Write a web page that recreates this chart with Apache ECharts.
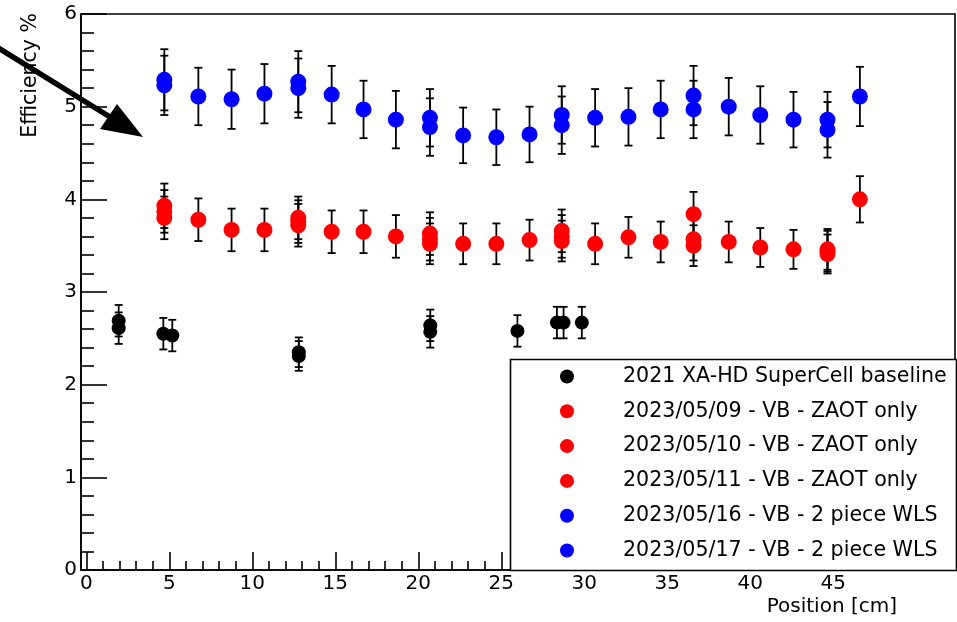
<!DOCTYPE html>
<html>
<head>
<meta charset="utf-8">
<script src="https://cdn.jsdelivr.net/npm/echarts@6/dist/echarts.min.js"></script>
<style>html,body{margin:0;padding:0;background:#fff}#c{width:957px;height:622px}</style>
</head>
<body>
<div id="c"></div>
<script>
// ---- data ----
var seriesNames = [
  '2021 XA-HD SuperCell baseline',
  '2023/05/09 - VB - ZAOT only',
  '2023/05/10 - VB - ZAOT only',
  '2023/05/11 - VB - ZAOT only',
  '2023/05/16 - VB - 2 piece WLS',
  '2023/05/17 - VB - 2 piece WLS'
];
var xTickValues = [0, 5, 10, 15, 20, 25, 30, 35, 40, 45, 50];
var xLabelValues = [0, 5, 10, 15, 20, 25, 30, 35, 40, 45];
var xMinorValues = [1,2,3,4,6,7,8,9,11,12,13,14,16,17,18,19,21,22,23,24,26,27,28,29,31,32,33,34,36,37,38,39,41,42,43,44,46,47,48,49,51,52];

var posFull = [4.70, 6.75, 8.75, 10.73, 12.77, 14.78, 16.70, 18.65, 20.70, 22.70, 24.70, 26.70, 28.64, 30.65, 32.66, 34.60, 36.58, 38.70, 40.60, 42.60, 44.65, 46.60];
var posSub = [4.70, 12.77, 20.70, 28.64, 36.58, 44.65];

var baselineX   = [1.95, 1.95, 4.64, 5.18, 12.80, 12.80, 20.72, 20.72, 25.97, 28.35, 28.75, 29.85];
var baselineY   = [2.69, 2.61, 2.55, 2.53, 2.35, 2.31, 2.64, 2.57, 2.58, 2.67, 2.67, 2.67];
var baselineErr = [0.17, 0.17, 0.17, 0.17, 0.16, 0.16, 0.17, 0.17, 0.17, 0.17, 0.17, 0.17];

var zaot0509    = [3.87, 3.78, 3.67, 3.67, 3.76, 3.65, 3.65, 3.60, 3.57, 3.52, 3.52, 3.56, 3.60, 3.52, 3.59, 3.54, 3.57, 3.54, 3.48, 3.46, 3.44, 4.00];
var zaot0509Err = [0.23, 0.23, 0.23, 0.23, 0.23, 0.23, 0.23, 0.23, 0.23, 0.22, 0.22, 0.22, 0.23, 0.22, 0.22, 0.22, 0.23, 0.22, 0.21, 0.21, 0.22, 0.25];
var zaot0510    = [3.93, 3.80, 3.63, 3.66, 3.84, 3.46];
var zaot0510Err = [0.24, 0.23, 0.23, 0.23, 0.24, 0.22];
var zaot0511    = [3.80, 3.72, 3.52, 3.55, 3.50, 3.41];
var zaot0511Err = [0.23, 0.23, 0.22, 0.22, 0.22, 0.21];

var wls0516    = [5.23, 5.11, 5.08, 5.14, 5.20, 5.13, 4.97, 4.86, 4.78, 4.69, 4.67, 4.70, 4.80, 4.88, 4.89, 4.97, 4.97, 5.00, 4.91, 4.86, 4.75, 5.11];
var wls0516Err = [0.32, 0.31, 0.32, 0.32, 0.32, 0.31, 0.31, 0.31, 0.31, 0.30, 0.30, 0.30, 0.31, 0.31, 0.31, 0.31, 0.31, 0.31, 0.31, 0.30, 0.30, 0.32];
var wls0517    = [5.29, 5.27, 4.88, 4.91, 5.12, 4.86];
var wls0517Err = [0.33, 0.33, 0.31, 0.31, 0.32, 0.30];

var colors = ['#000000', '#ff0000', '#ff0000', '#ff0000', '#0000ff', '#0000ff'];
var markerSizes = [14, 16, 16, 16, 16, 16];

// ---- build series ----
function zip(xs, ys, es) {
  var out = [];
  for (var i = 0; i < xs.length; i++) out.push([xs[i], ys[i], es[i]]);
  return out;
}
var sets = [
  zip(baselineX, baselineY, baselineErr),
  zip(posFull, zaot0509, zaot0509Err),
  zip(posSub, zaot0510, zaot0510Err),
  zip(posSub, zaot0511, zaot0511Err),
  zip(posFull, wls0516, wls0516Err),
  zip(posSub, wls0517, wls0517Err)
];

var FONT = 'DejaVu Sans';
var series = [];
sets.forEach(function (d, i) {
  series.push({
    type: 'custom',
    name: 'err' + i,
    data: d,
    z: 2,
    silent: true,
    clip: false,
    renderItem: function (params, api) {
      var x = api.value(0), y = api.value(1), e = api.value(2);
      var top = api.coord([x, y + e]);
      var bot = api.coord([x, y - e]);
      var cw = 4;
      var st = { stroke: '#000', lineWidth: 1.8 };
      return {
        type: 'group',
        children: [
          { type: 'line', shape: { x1: top[0], y1: top[1], x2: bot[0], y2: bot[1] }, style: st },
          { type: 'line', shape: { x1: top[0] - cw, y1: top[1], x2: top[0] + cw, y2: top[1] }, style: st },
          { type: 'line', shape: { x1: bot[0] - cw, y1: bot[1], x2: bot[0] + cw, y2: bot[1] }, style: st }
        ]
      };
    }
  });
});
sets.forEach(function (d, i) {
  series.push({
    type: 'scatter',
    name: seriesNames[i],
    data: d.map(function (p) { return [p[0], p[1]]; }),
    symbol: 'circle',
    symbolSize: markerSizes[i],
    itemStyle: { color: colors[i], opacity: 1 },
    z: 3,
    silent: true
  });
});

var axisLineStyle = { color: '#000', width: 1.6 };
var option = {
  animation: false,
  backgroundColor: '#fff',
  grid: { left: 81, top: 14, right: 2, bottom: 52, show: true, borderColor: '#000', borderWidth: 1.6, backgroundColor: 'transparent' },
  xAxis: [{
    type: 'value', min: -0.32, max: 52.33, position: 'bottom',
    axisLine: { show: true, onZero: false, lineStyle: axisLineStyle },
    axisTick: { show: true, inside: true, length: 18, lineStyle: axisLineStyle, customValues: xTickValues },
    axisLabel: { show: true, margin: 4, color: '#000', fontSize: 20, fontFamily: FONT, customValues: xLabelValues },
    splitLine: { show: false }
  }, {
    type: 'value', min: -0.32, max: 52.33, position: 'bottom',
    axisLine: { show: false },
    axisTick: { show: true, inside: true, length: 9, lineStyle: axisLineStyle, customValues: xMinorValues },
    axisLabel: { show: false },
    splitLine: { show: false }
  }],
  yAxis: {
    type: 'value', min: 0, max: 6, interval: 1,
    axisLine: { show: true, onZero: false, lineStyle: axisLineStyle },
    axisTick: { show: true, inside: true, length: 26, lineStyle: axisLineStyle },
    minorTick: { show: true, splitNumber: 5, length: 13, lineStyle: axisLineStyle },
    axisLabel: { margin: 4, color: '#000', fontSize: 20, fontFamily: FONT },
    splitLine: { show: false }
  },
  legend: {
    orient: 'vertical', left: 560, top: 366, padding: 0,
    itemWidth: 14, itemHeight: 14, itemGap: 13.8,
    selectedMode: false, z: 20,
    data: seriesNames.map(function (n, i) { return { name: n, icon: 'circle', itemStyle: { color: colors[i] } }; }),
    textStyle: { color: '#000', fontSize: 20.6, fontFamily: FONT, lineHeight: 20, padding: [0, 0, 0, 44] }
  },
  graphic: [
    { type: 'rect', z: 10, shape: { x: 510.5, y: 359.5, width: 446, height: 211 }, style: { fill: '#fff', stroke: '#000', lineWidth: 1.6 } },
    { type: 'line', z: 10, shape: { x1: -5, y1: 46, x2: 110, y2: 117 }, style: { stroke: '#000', lineWidth: 5.5 } },
    { type: 'polygon', z: 10, shape: { points: [[143, 137], [100, 129], [117, 104]] }, style: { fill: '#000' } },
    { type: 'text', z: 10, x: 31, y: 13, rotation: Math.PI / 2, style: { text: 'Efficiency %', fill: '#000', font: '20.5px "DejaVu Sans"', align: 'right', verticalAlign: 'middle' } },
    { type: 'text', z: 10, x: 897, y: 607, style: { text: 'Position [cm]', fill: '#000', font: '20px "DejaVu Sans"', align: 'right', verticalAlign: 'middle' } }
  ],
  series: series
};
var chart = echarts.init(document.getElementById('c'), null, { renderer: 'canvas' });
chart.setOption(option);
</script>
</body>
</html>
